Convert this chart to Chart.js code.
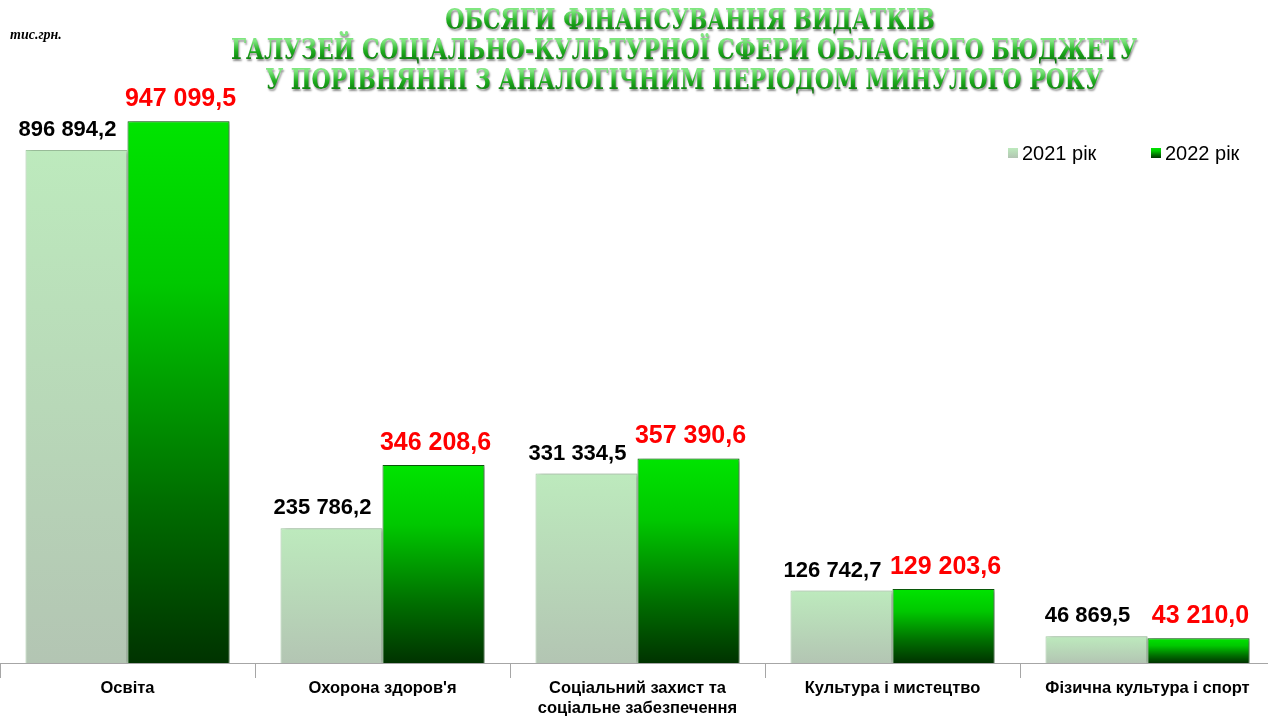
<!DOCTYPE html>
<html>
<head>
<meta charset="utf-8">
<script src="https://cdn.jsdelivr.net/npm/chart.js@4.4.1/dist/chart.umd.min.js"></script>
<style>
  html, body { margin: 0; padding: 0; background: #ffffff; overflow: hidden; width: 1268px; height: 716px; }
  #wrap { width: 1268px; height: 716px; position: relative; overflow: hidden; }
  canvas { display: block; }
</style>
</head>
<body>
<div id="wrap"><canvas id="c" width="1275" height="716"></canvas></div>
<script>
// ---- data ----
const categories = [
  'Освіта',
  "Охорона здоров'я",
  ['Соціальний захист та', 'соціальне забезпечення'],
  'Культура і мистецтво',
  'Фізична культура і спорт'
];
const seriesNames = ['2021 рік', '2022 рік'];
const values2021 = [896894.2, 235786.2, 331334.5, 126742.7, 46869.5];
const values2022 = [947099.5, 346208.6, 357390.6, 129203.6, 43210.0];
const titleLines = [
  'ОБСЯГИ ФІНАНСУВАННЯ ВИДАТКІВ',
  'ГАЛУЗЕЙ СОЦІАЛЬНО-КУЛЬТУРНОЇ СФЕРИ ОБЛАСНОГО БЮДЖЕТУ',
  'У ПОРІВНЯННІ З АНАЛОГІЧНИМ ПЕРІОДОМ МИНУЛОГО РОКУ'
];
const unitLabel = 'тис.грн.';

function fmt(v) {
  const parts = v.toFixed(1).split('.');
  const int = parts[0].replace(/\B(?=(\d{3})+(?!\d))/g, ' ');
  return int + ',' + parts[1];
}

function barGradient(stops, fallback) {
  return (ctx) => {
    const chart = ctx.chart;
    if (!chart.chartArea || ctx.type !== 'data') return fallback;
    const y = chart.scales.y;
    const top = y.getPixelForValue(ctx.raw);
    const bottom = y.getPixelForValue(0);
    if (!isFinite(top) || !isFinite(bottom) || bottom - top < 1) return fallback;
    const g = chart.ctx.createLinearGradient(0, top, 0, bottom);
    stops.forEach(s => g.addColorStop(s[0], s[1]));
    return g;
  };
}

const stops2021 = [[0, '#bdeabd'], [0.5, '#b8d8b8'], [1, '#b3c5b3']];
const stops2022 = [[0, '#00e400'], [0.3, '#00c800'], [0.7, '#006e00'], [1, '#003300']];

// ---- plugins ----
const shadowPlugin = {
  id: 'barShadow',
  beforeDatasetDraw(chart) {
    const c = chart.ctx;
    c.save();
    c.shadowColor = 'rgba(0,0,0,0.35)';
    c.shadowOffsetX = 3;
    c.shadowOffsetY = 1;
    c.shadowBlur = 4;
  },
  afterDatasetDraw(chart) {
    chart.ctx.restore();
  }
};

const labelPlugin = {
  id: 'valueLabels',
  afterDatasetsDraw(chart) {
    const c = chart.ctx;
    const cfg = [
      { font: 'bold 22px "Liberation Sans", Arial, sans-serif', color: '#000000', dx: -9, dy: 20 },
      { font: 'bold 25px "Liberation Sans", Arial, sans-serif', color: '#ff0000', dx: 2, dy: 22 }
    ];
    chart.data.datasets.forEach((ds, di) => {
      const meta = chart.getDatasetMeta(di);
      c.save();
      c.font = cfg[di].font;
      c.fillStyle = cfg[di].color;
      c.textAlign = 'center';
      c.textBaseline = 'middle';
      meta.data.forEach((el, i) => {
        c.fillText(fmt(ds.data[i]), el.x + cfg[di].dx, el.y - cfg[di].dy);
      });
      c.restore();
    });
  }
};

const decorPlugin = {
  id: 'decor',
  afterDraw(chart) {
    const c = chart.ctx;
    // title
    c.save();
    c.font = 'bold 27px "DejaVu Serif", "Liberation Serif", serif';
    const targetW = 906;
    const sx = targetW / c.measureText(titleLines[1]).width;
    const centers = [690, 684, 684];
    const ys = [22, 52, 82];
    c.textAlign = 'center';
    c.textBaseline = 'middle';
    titleLines.forEach((line, i) => {
      c.save();
      c.translate(centers[i], ys[i]);
      c.scale(sx, 1);
      const g = c.createLinearGradient(0, -11, 0, 11);
      g.addColorStop(0, '#7fe67f');
      g.addColorStop(0.45, '#1fae1f');
      g.addColorStop(1, '#087008');
      c.shadowColor = 'rgba(0,0,0,0.45)';
      c.shadowOffsetX = 1;
      c.shadowOffsetY = 1.5;
      c.shadowBlur = 2;
      c.fillStyle = g;
      c.fillText(line, 0, 0);
      c.restore();
    });
    c.restore();

    // unit label
    c.save();
    c.font = 'italic bold 14px "Liberation Serif", serif';
    c.fillStyle = '#000';
    c.textAlign = 'left';
    c.textBaseline = 'middle';
    c.fillText(unitLabel, 10, 35);
    c.restore();

    // legend
    c.save();
    const items = [
      { x: 1008, stops: stops2021 },
      { x: 1151, stops: stops2022 }
    ];
    c.font = '20px "Liberation Sans", Arial, sans-serif';
    c.textBaseline = 'middle';
    items.forEach((it, i) => {
      const g = c.createLinearGradient(0, 148, 0, 158);
      it.stops.forEach(s => g.addColorStop(s[0], s[1]));
      c.fillStyle = g;
      c.fillRect(it.x, 148, 10, 10);
      c.fillStyle = '#000';
      c.fillText(seriesNames[i], it.x + 14, 154);
    });
    c.restore();
  }
};

new Chart(document.getElementById('c'), {
  type: 'bar',
  data: {
    labels: categories,
    datasets: [
      {
        label: seriesNames[0],
        data: values2021,
        backgroundColor: barGradient(stops2021, '#b9d9b9'),
        borderColor: '#a6cca6',
        borderWidth: 1,
        categoryPercentage: 0.8,
        barPercentage: 1.0
      },
      {
        label: seriesNames[1],
        data: values2022,
        backgroundColor: barGradient(stops2022, '#00a000'),
        borderColor: '#0a5f0a',
        borderWidth: 1,
        categoryPercentage: 0.8,
        barPercentage: 1.0
      }
    ]
  },
  options: {
    responsive: false,
    animation: false,
    devicePixelRatio: 1,
    layout: { padding: { top: 91, left: 0, right: 0, bottom: 0 } },
    plugins: {
      legend: { display: false },
      title: { display: false },
      tooltip: { enabled: false }
    },
    scales: {
      x: {
        type: 'category',
        grid: {
          display: true,
          offset: true,
          drawOnChartArea: false,
          drawTicks: true,
          tickLength: 15,
          color: '#a6a6a6'
        },
        border: { display: true, color: '#a6a6a6', width: 1 },
        ticks: {
          color: '#000',
          padding: 0,
          maxRotation: 0,
          autoSkip: false,
          font: { family: '"Liberation Sans", Arial, sans-serif', size: 16.5, weight: 'bold', lineHeight: 1.25 }
        },
        afterFit(scale) { scale.height = 53; }
      },
      y: {
        display: false,
        min: 0,
        max: 1000000
      }
    }
  },
  plugins: [shadowPlugin, labelPlugin, decorPlugin]
});
</script>
</body>
</html>
